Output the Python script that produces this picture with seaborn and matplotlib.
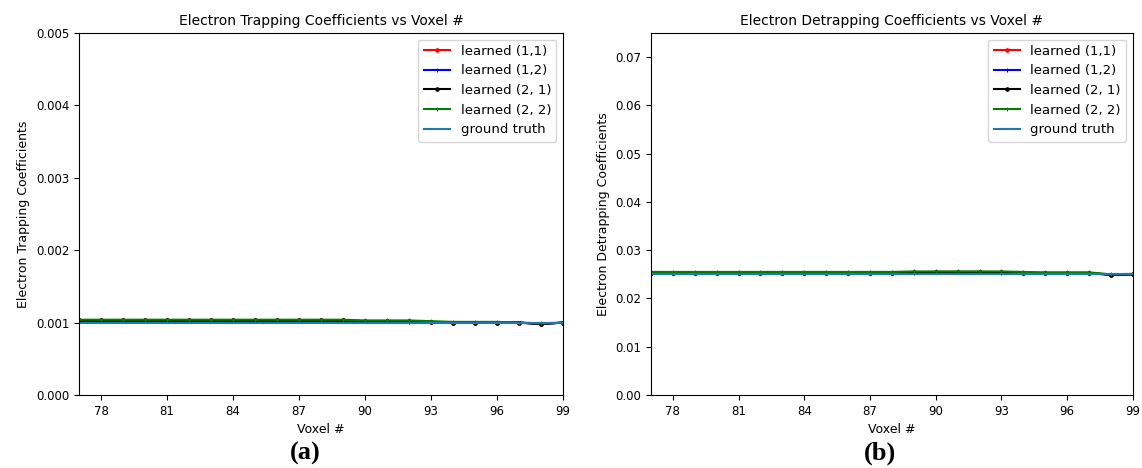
import numpy as np
import matplotlib
matplotlib.use("Agg")
import matplotlib.pyplot as plt
import seaborn as sns

# voxel index
voxels = list(range(77, 100))

# trapping coefficients (panel a)
trap_11 = [0.00103, 0.00103, 0.00103, 0.00103, 0.00103, 0.00103, 0.00103, 0.00103, 0.00103, 0.00103, 0.00103, 0.00103,
           0.00103, 0.00102, 0.00102, 0.00102, 0.00101, 0.00100, 0.00100, 0.00100, 0.00100, 0.00098, 0.00100]
trap_12 = [0.00102, 0.00102, 0.00102, 0.00102, 0.00102, 0.00102, 0.00102, 0.00102, 0.00102, 0.00102, 0.00102, 0.00102,
           0.00102, 0.00102, 0.00102, 0.00101, 0.00101, 0.00100, 0.00100, 0.00100, 0.00100, 0.00098, 0.00100]
trap_21 = [0.00103, 0.00103, 0.00103, 0.00103, 0.00103, 0.00103, 0.00103, 0.00103, 0.00103, 0.00103, 0.00103, 0.00103,
           0.00103, 0.00102, 0.00102, 0.00102, 0.00101, 0.00100, 0.00100, 0.00100, 0.00100, 0.00098, 0.00100]
trap_22 = [0.00104, 0.00104, 0.00104, 0.00104, 0.00104, 0.00104, 0.00104, 0.00104, 0.00104, 0.00104, 0.00104, 0.00104,
           0.00104, 0.00103, 0.00103, 0.00103, 0.00102, 0.00101, 0.00101, 0.00101, 0.00100, 0.00099, 0.00100]
trap_gt = [0.001] * 23

# detrapping coefficients (panel b)
detrap_11 = [0.0253, 0.0253, 0.0253, 0.0253, 0.0253, 0.0253, 0.0253, 0.0253, 0.0253, 0.0253, 0.0253, 0.0253,
             0.0254, 0.0255, 0.0255, 0.0255, 0.0254, 0.0253, 0.0253, 0.0253, 0.0253, 0.0249, 0.0250]
detrap_12 = [0.0252, 0.0252, 0.0252, 0.0252, 0.0252, 0.0252, 0.0252, 0.0252, 0.0252, 0.0252, 0.0252, 0.0252,
             0.0253, 0.0254, 0.0254, 0.0254, 0.0253, 0.0252, 0.0252, 0.0252, 0.0252, 0.0249, 0.0250]
detrap_21 = [0.0253, 0.0253, 0.0253, 0.0253, 0.0253, 0.0253, 0.0253, 0.0253, 0.0253, 0.0253, 0.0253, 0.0253,
             0.0254, 0.0255, 0.0255, 0.0255, 0.0254, 0.0253, 0.0253, 0.0253, 0.0253, 0.0249, 0.0250]
detrap_22 = [0.0255, 0.0255, 0.0255, 0.0255, 0.0255, 0.0255, 0.0255, 0.0255, 0.0255, 0.0255, 0.0255, 0.0255,
             0.0256, 0.0256, 0.0256, 0.0256, 0.0256, 0.0255, 0.0254, 0.0254, 0.0254, 0.0250, 0.0251]
detrap_gt = [0.025] * 23

labels = ["learned (1,1)", "learned (1,2)", "learned (2, 1)", "learned (2, 2)", "ground truth"]
colors = ["red", "blue", "black", "green", "#1f77b4"]
markers = [".", "+", ".", "+", None]

plt.rcParams["font.size"] = 9

fig = plt.figure(figsize=(11.42, 4.68), dpi=100)
ax1 = fig.add_axes([0.0692, 0.156, 0.4238, 0.7735])
ax2 = fig.add_axes([0.570, 0.156, 0.422, 0.7735])


def draw(ax, series, title, ylabel, ymax, yticks):
    for y, lab, c, m in zip(series, labels, colors, markers):
        if m is None:
            sns.lineplot(x=voxels, y=y, ax=ax, color=c, label=lab, linewidth=1.5)
        else:
            sns.lineplot(x=voxels, y=y, ax=ax, color=c, label=lab, marker=m,
                         markersize=5 if m == "." else 3, markeredgecolor=c, linewidth=1.5)
    ax.set_xlim(77, 99)
    ax.set_ylim(0, ymax)
    ax.set_xticks(range(78, 100, 3))
    ax.set_yticks(yticks)
    ax.tick_params(labelsize=8.5)
    ax.set_title(title, fontsize=10)
    ax.set_xlabel("Voxel #")
    ax.set_ylabel(ylabel)
    ax.legend(loc="upper right", fontsize=9.5)


draw(ax1, [trap_11, trap_12, trap_21, trap_22, trap_gt],
     "Electron Trapping Coefficients vs Voxel #", "Electron Trapping Coefficients",
     0.005, np.arange(0, 0.0051, 0.001))
draw(ax2, [detrap_11, detrap_12, detrap_21, detrap_22, detrap_gt],
     "Electron Detrapping Coefficients vs Voxel #", "Electron Detrapping Coefficients",
     0.075, np.arange(0, 0.071, 0.01))

fig.text(0.267, 0.032, "(a)", ha="center", va="center", fontsize=19,
         fontweight="bold", family="Liberation Serif")
fig.text(0.771, 0.032, "(b)", ha="center", va="center", fontsize=19,
         fontweight="bold", family="Liberation Serif")

plt.savefig("out.png", dpi=100)
